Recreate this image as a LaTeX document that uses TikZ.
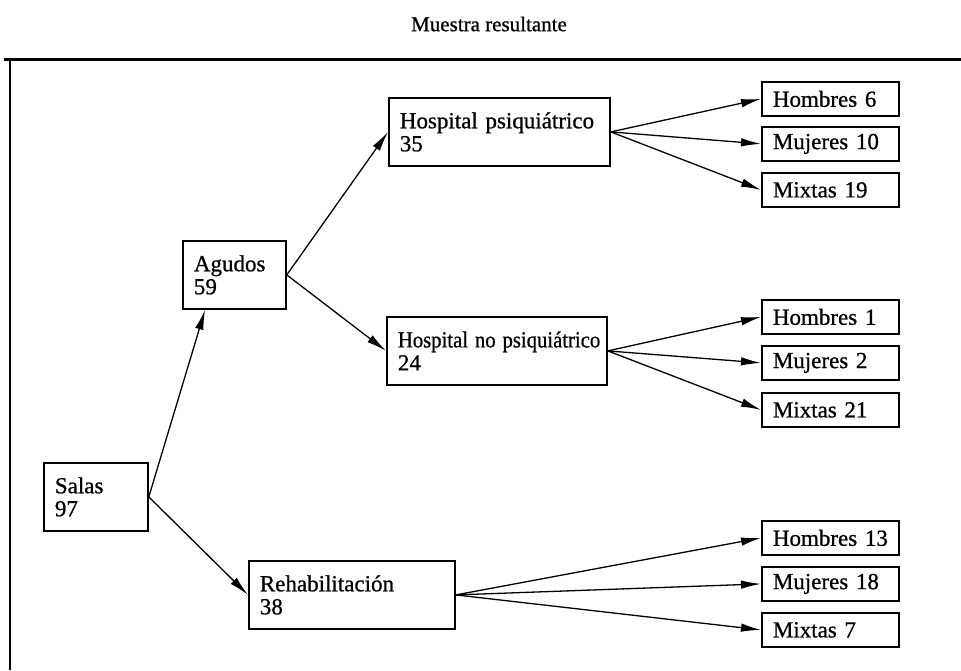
\documentclass[tikz,border=0pt]{standalone}
\usepackage{fontspec}
\usepackage{graphicx}
\setmainfont[FakeBold=0.8]{Liberation Serif}
\usetikzlibrary{arrows.meta,calc}
\begin{document}
\begin{tikzpicture}[x=1pt,y=-1pt,
  box/.style={draw,line width=1.8pt,rectangle,anchor=north west,inner xsep=11pt,inner ysep=0pt,
    align=left,font=\fontsize{23}{23}\selectfont},
  big/.style={box,minimum height=68pt},
  small/.style={box,minimum height=34pt,text width=115pt},
  arr/.style={line width=1.3pt,-{Latex[length=20pt,width=8.5pt]}}]
\useasboundingbox (0,0) rectangle (961,670);
\node[font=\fontsize{21}{22}\selectfont] (title) at (489,24) {Muestra resultante};
\coordinate (ftl) at (10,59);
\coordinate (ftr) at (961,59);
\coordinate (fbl) at (10,670);
\draw[line width=3pt] (4,59) -- (ftr);
\draw[line width=2.5pt] (ftl) -- (fbl);
% main boxes
\node[big,text width=82pt] (sal) at (43,462) {Salas\\97};
\node[big,text width=81pt] (agu) at (182,240) {Agudos\\59};
\node[big,text width=199pt] (hp) at (388,97) {\makebox[199pt][l]{Hospital psiquiátrico}\\35};
\node[big,text width=198pt] (hnp) at (386,316) {\scalebox{0.9}[1]{Hospital no psiquiátrico}\\24};
\node[big,text width=184pt] (reh) at (248,560) {Rehabilitación\\38};
% leaves
\node[small] (h6) at (761,81) {Hombres 6};
\node[small] (m10) at (761,126) {Mujeres 10};
\node[small] (x19) at (761,172) {Mixtas 19};
\node[small] (h1) at (761,299) {Hombres 1};
\node[small] (m2) at (761,345) {Mujeres 2};
\node[small] (x21) at (761,392) {Mixtas 21};
\node[small] (h13) at (761,520) {Hombres 13};
\node[small] (m18) at (761,566) {Mujeres 18};
\node[small] (x7) at (761,612) {Mixtas 7};
% arrows
\draw[arr] (sal.east) -- ($(agu.south west)!0.22!(agu.south east)$);
\draw[arr] (sal.east) -- (reh.west);
\draw[arr] (agu.east) -- (hp.west);
\draw[arr] (agu.east) -- (hnp.west);
\foreach \t in {h6,m10,x19} \draw[arr] (hp.east) -- (\t.west);
\foreach \t in {h1,m2,x21} \draw[arr] (hnp.east) -- (\t.west);
\foreach \t in {h13,m18,x7} \draw[arr] (reh.east) -- (\t.west);
\end{tikzpicture}
\end{document}
